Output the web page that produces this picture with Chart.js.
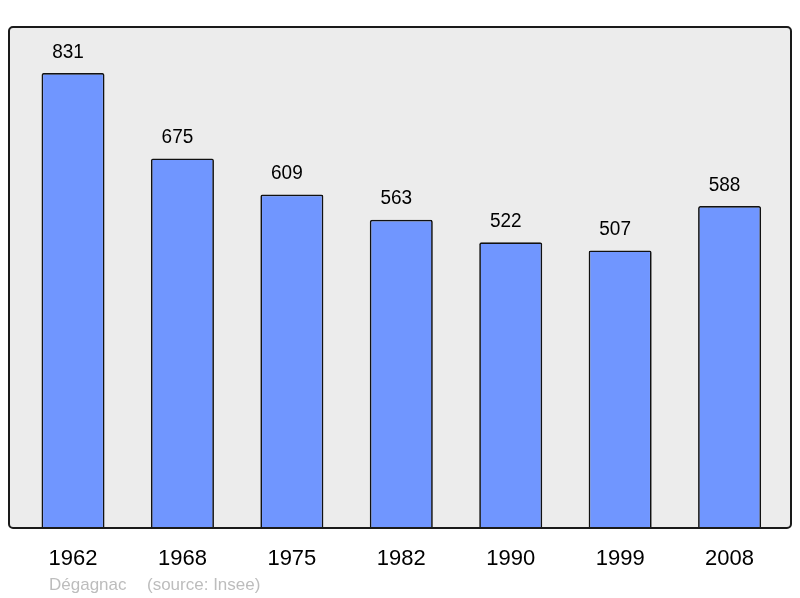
<!DOCTYPE html>
<html>
<head>
<meta charset="utf-8">
<script src="https://cdn.jsdelivr.net/npm/chart.js@4/dist/chart.umd.min.js"></script>
<style>
html,body{margin:0;padding:0;background:#fff;}
#wrap{width:800px;height:598px;position:relative;}
</style>
</head>
<body>
<div id="wrap"><canvas id="c" width="800" height="598"></canvas></div>
<script>
const years = ["1962","1968","1975","1982","1990","1999","2008"];
const population = [831, 675, 609, 563, 522, 507, 588];
const placeName = "Dégagnac";
const sourceText = "(source: Insee)";

const FONT = "'Liberation Sans', Arial, sans-serif";

const framePlugin = {
  id: 'frame',
  beforeDatasetsDraw(chart) {
    const ctx = chart.ctx;
    ctx.save();
    ctx.beginPath();
    ctx.roundRect(9, 27, 782, 501, 4);
    ctx.fillStyle = '#ececec';
    ctx.fill();
    ctx.restore();
  },
  afterDatasetsDraw(chart) {
    const ctx = chart.ctx;
    ctx.save();
    ctx.beginPath();
    ctx.roundRect(9, 27, 782, 501, 4);
    ctx.lineWidth = 2;
    ctx.strokeStyle = '#1a1a1a';
    ctx.stroke();
    // value labels (slightly taller glyphs, as in the reference)
    const meta = chart.getDatasetMeta(0);
    ctx.fillStyle = '#000';
    ctx.font = "19px " + FONT;
    ctx.textAlign = 'center';
    ctx.textBaseline = 'middle';
    meta.data.forEach((bar, i) => {
      ctx.save();
      ctx.translate(bar.x - 5, bar.y - 21);
      ctx.scale(1, 1.1);
      ctx.fillText(String(population[i]), 0, 0);
      ctx.restore();
    });
    // footer
    ctx.fillStyle = '#bdbdbd';
    ctx.font = "17px " + FONT;
    ctx.textAlign = 'left';
    ctx.textBaseline = 'alphabetic';
    ctx.fillText(placeName, 49, 590);
    ctx.fillText(sourceText, 147, 590);
    ctx.restore();
  }
};

new Chart(document.getElementById('c'), {
  type: 'bar',
  data: {
    labels: years,
    datasets: [{
      data: population,
      backgroundColor: '#7096ff',
      borderColor: '#111',
      borderWidth: 1.7,
      borderRadius: 2,
      borderSkipped: 'start',
      barPercentage: 0.576,
      categoryPercentage: 1.0
    }]
  },
  options: {
    responsive: false,
    animation: false,
    devicePixelRatio: 1,
    layout: { padding: { top: 27, left: 18.3, right: 15.7, bottom: 8.6 } },
    plugins: { legend: { display: false }, tooltip: { enabled: false } },
    scales: {
      x: {
        grid: { display: false, drawTicks: false },
        border: { display: false },
        ticks: { color: '#000', font: { family: FONT, size: 22 }, padding: 17.5, maxRotation: 0 }
      },
      y: {
        display: false,
        min: 0,
        max: 915
      }
    }
  },
  plugins: [framePlugin]
});
</script>
</body>
</html>
